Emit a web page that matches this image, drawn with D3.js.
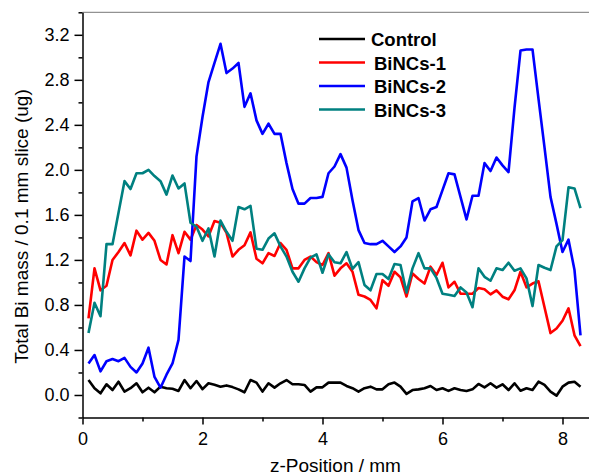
<!DOCTYPE html>
<html>
<head>
<meta charset="utf-8">
<script src="https://cdn.jsdelivr.net/npm/d3@7"></script>
<style>
  body { margin: 0; background: #fff; }
  svg { display: block; font-family: "Liberation Sans", Arial, sans-serif; }
</style>
</head>
<body>
<div id="chart"></div>
<script>
// z positions of the 0.1 mm slices
var zPos = d3.range(1, 84).map(function(k) { return k / 10; });

var control = [0.133,0.06,0.015,0.095,0.044,0.118,0.03,0.06,0.104,0.024,
  0.065,0.024,0.074,0.06,0.055,0.036,0.133,0.06,0.124,0.052,
  0.104,0.09,0.074,0.085,0.07,0.05,0.024,0.133,0.11,0.03,
  0.104,0.065,0.104,0.133,0.095,0.095,0.089,0.03,0.068,0.068,
  0.11,0.11,0.11,0.08,0.06,0.03,0.06,0.074,0.05,0.05,
  0.095,0.11,0.074,0.01,0.044,0.05,0.06,0.08,0.044,0.06,
  0.036,0.06,0.044,0.036,0.05,0.098,0.068,0.104,0.065,0.095,
  0.044,0.104,0.038,0.06,0.044,0.118,0.089,0.03,-0.006,0.074,
  0.11,0.118,0.074];

var bincs1 = [0.68,1.125,0.93,0.97,1.20,1.27,1.35,1.24,1.46,1.38,
  1.44,1.37,1.20,1.16,1.42,1.26,1.45,1.38,1.51,1.47,
  1.41,1.545,1.53,1.44,1.23,1.29,1.33,1.445,1.21,1.17,
  1.26,1.235,1.35,1.29,1.125,1.125,1.20,1.23,1.18,1.155,
  1.26,1.06,1.125,1.17,1.095,0.89,0.875,0.845,0.77,1.02,
  0.97,1.095,1.045,0.875,1.08,1.03,0.99,1.14,1.066,1.175,
  0.956,1.006,0.90,0.90,0.90,0.95,0.94,0.894,0.93,0.873,
  0.85,0.93,1.095,0.956,0.99,1.01,0.78,0.55,0.59,0.66,
  0.77,0.53,0.435];

var bincs2 = [0.28,0.355,0.21,0.30,0.32,0.30,0.33,0.25,0.20,0.28,
  0.42,0.16,0.065,0.18,0.28,0.49,1.23,1.19,2.12,2.47,
  2.78,2.95,3.12,2.86,2.90,2.95,2.56,2.68,2.44,2.32,
  2.41,2.32,2.32,2.06,1.83,1.70,1.70,1.75,1.75,1.76,
  1.97,2.03,2.14,2.02,1.73,1.465,1.35,1.34,1.34,1.37,
  1.32,1.27,1.32,1.40,1.72,1.75,1.55,1.65,1.67,1.82,
  1.97,1.96,1.76,1.56,1.77,1.77,2.06,1.99,2.11,2.04,
  1.98,2.55,3.06,3.07,3.07,2.63,2.2,1.76,1.52,1.27,
  1.38,1.11,0.53];

var bincs3 = [0.55,0.82,0.70,1.34,1.34,1.62,1.90,1.83,1.97,1.97,
  2.0,1.945,1.90,1.78,1.95,1.835,1.88,1.53,1.495,1.37,
  1.48,1.23,1.55,1.45,1.37,1.67,1.65,1.68,1.30,1.29,
  1.39,1.436,1.32,1.23,1.095,1.006,1.125,1.22,1.25,1.086,
  1.25,1.18,1.17,1.27,1.12,1.18,0.977,0.93,1.075,1.075,
  1.03,1.163,1.155,0.91,1.125,1.26,1.125,1.125,1.04,0.90,
  0.89,0.88,0.956,0.91,0.78,1.125,1.05,1.015,1.125,1.11,
  1.175,1.104,1.125,1.036,0.79,1.155,1.13,1.11,1.32,1.376,
  1.845,1.835,1.66];

var seriesNames = ["Control", "BiNCs-1", "BiNCs-2", "BiNCs-3"];
var seriesColors = ["#000000", "#ff0000", "#0000ff", "#008080"];
var seriesValues = [control, bincs1, bincs2, bincs3];

var xTicks = [0, 2, 4, 6, 8];
var xMinor = [1, 3, 5, 7];
var yTicks = [0.0, 0.4, 0.8, 1.2, 1.6, 2.0, 2.4, 2.8, 3.2];
var yMinor = [-0.2, 0.2, 0.6, 1.0, 1.4, 1.8, 2.2, 2.6, 3.0, 3.4];

var width = 589, height = 476;
var svg = d3.select("#chart").append("svg")
            .attr("width", width)
            .attr("height", height);

var x = d3.scaleLinear().domain([0, 8.45]).range([82.5, 589.5]);
var y = d3.scaleLinear().domain([-0.2, 3.4]).range([417.5, 12.3]);

// top frame line
svg.append("line")
  .attr("x1", x(0)).attr("x2", width)
  .attr("y1", y(3.4)).attr("y2", y(3.4))
  .attr("stroke", "#777").attr("stroke-width", 1);

// axes
var xAxis = svg.append("g")
  .attr("transform", "translate(0," + y(-0.2) + ")")
  .call(d3.axisBottom(x).tickValues(xTicks).tickSize(7).tickPadding(8)
        .tickSizeOuter(0).tickFormat(d3.format("d")));
svg.append("g")
  .attr("transform", "translate(0," + y(-0.2) + ")")
  .call(d3.axisBottom(x).tickValues(xMinor).tickSize(4).tickFormat(""))
  .call(function(g) { g.select(".domain").remove(); });

var yAxis = svg.append("g")
  .attr("transform", "translate(" + x(0) + ",0)")
  .call(d3.axisLeft(y).tickValues(yTicks).tickSize(8).tickPadding(5)
        .tickSizeOuter(0).tickFormat(d3.format(".1f")));
svg.append("g")
  .attr("transform", "translate(" + x(0) + ",0)")
  .call(d3.axisLeft(y).tickValues(yMinor).tickSize(4).tickFormat(""))
  .call(function(g) { g.select(".domain").remove(); });

svg.selectAll(".domain, .tick line").attr("stroke", "#000").attr("stroke-width", 1.5);
svg.selectAll(".tick text").attr("fill", "#000").style("font-size", "18px")
   .style("font-family", "'Liberation Sans', Arial, sans-serif");

// axis titles
svg.append("text")
  .attr("x", 335.5).attr("y", 472)
  .attr("text-anchor", "middle")
  .style("font-size", "19px")
  .text("z-Position / mm");

svg.append("text")
  .attr("transform", "translate(28," + 226.5 + ") rotate(-90)")
  .attr("text-anchor", "middle")
  .style("font-size", "19px")
  .text("Total Bi mass / 0.1 mm slice (ug)");

// data lines
var line = d3.line()
  .x(function(d, i) { return x(zPos[i]); })
  .y(function(d) { return y(d); });

seriesValues.forEach(function(vals, i) {
  svg.append("path")
    .datum(vals)
    .attr("fill", "none")
    .attr("stroke", seriesColors[i])
    .attr("stroke-width", 2.6)
    .attr("stroke-linejoin", "round")
    .attr("d", line);
});

// legend
var legend = svg.append("g").attr("transform", "translate(319,39)");
seriesNames.forEach(function(name, i) {
  var row = legend.append("g").attr("transform", "translate(0," + (i * 23.5) + ")");
  row.append("line")
    .attr("x1", 0).attr("x2", 46).attr("y1", 0).attr("y2", 0)
    .attr("stroke", seriesColors[i]).attr("stroke-width", 2.6);
  row.append("text")
    .attr("x", i === 0 ? 52 : 55).attr("y", 7)
    .style("font-size", "18.5px")
    .style("font-weight", "bold")
    .text(name);
});
</script>
</body>
</html>
